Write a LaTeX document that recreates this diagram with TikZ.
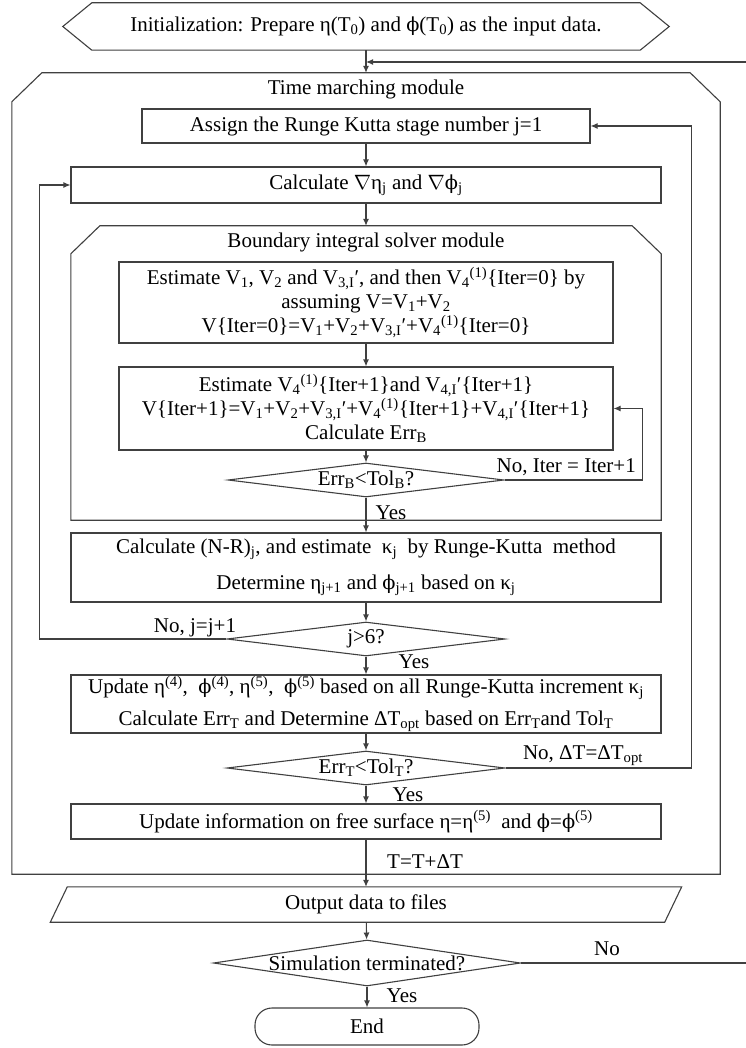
\documentclass[tikz,border=0pt]{standalone}
\usepackage{fontspec}
\setmainfont{Liberation Serif}
\newfontfamily\dvser[Scale=0.92]{DejaVu Serif}
\usetikzlibrary{arrows.meta,shapes.geometric}
\newcommand\fs{\fontsize{21}{24}\selectfont}
\newcommand\sbs[1]{\textsubscript{#1}}
\newcommand\sps[1]{\textsuperscript{#1}}
\newcommand\apos{′}
\newcommand\phis{{\dvser ϕ}}
\begin{document}
\begin{tikzpicture}[x=1pt,y=-1pt, font=\fs,
  lc/.style={draw=black!75, line width=1.1pt},
  box/.style={lc, rectangle, inner sep=0pt, align=center},
  hold/.style={rectangle, draw=none, inner sep=0pt, align=center},
  dia/.style={lc, diamond, aspect=1, inner sep=0pt},
  arr/.style={lc, -{Latex[length=7pt,width=6pt]}},
  lab/.style={inner sep=0pt}]
\useasboundingbox[fill=white] (0,0) rectangle (745,1048);

% initialization hexagon
\node[hold, minimum width=548pt, minimum height=47pt] (init) at (366,26.5)
  {Initialization: Prepare η(T\sbs{0}) and \phis(T\sbs{0}) as the input data.};
\draw[lc] (init.north west) -- (init.north east) -- ([xshift=29pt]init.east)
  -- (init.south east) -- (init.south west) -- ([xshift=-29pt]init.west) -- cycle;

% time marching module
\node[hold, minimum width=708pt, minimum height=801pt] (tmm) at (366,473.5) {};
\draw[lc] (tmm.south west) -- ([yshift=-29pt]tmm.north west) -- ([xshift=30pt]tmm.north west)
  -- ([xshift=-30pt]tmm.north east) -- ([yshift=-29pt]tmm.north east) -- (tmm.south east) -- cycle;
\node[lab] (tmmt) at (366,89) {Time marching module};

\node[box, minimum width=448pt, minimum height=34pt] (assign) at (366,126)
  {Assign the Runge Kutta stage number j=1};
\node[box, minimum width=590pt, minimum height=36pt] (calc) at (366,185)
  {Calculate $\nabla$η\sbs{j} and $\nabla$\phis\sbs{j}};

% boundary integral solver module
\node[hold, minimum width=590pt, minimum height=294pt] (bim) at (366,373) {};
\draw[lc] (bim.south west) -- ([yshift=-28pt]bim.north west) -- ([xshift=29pt]bim.north west)
  -- ([xshift=-29pt]bim.north east) -- ([yshift=-28pt]bim.north east) -- (bim.south east) -- cycle;
\node[lab] (bimt) at (366,242) {Boundary integral solver module};

\node[box, minimum width=494pt, minimum height=81pt] (est1) at (366,302.5)
  {Estimate V\sbs{1}, V\sbs{2} and V\sbs{3,I}\apos, and then V\sbs{4}\sps{(1)}\{Iter=0\} by\\
   assuming V=V\sbs{1}+V\sbs{2}\\
   V\{Iter=0\}=V\sbs{1}+V\sbs{2}+V\sbs{3,I}\apos+V\sbs{4}\sps{(1)}\{Iter=0\}};
\node[box, minimum width=494pt, minimum height=83pt] (est2) at (366,408.5)
  {Estimate V\sbs{4}\sps{(1)}\{Iter+1\}and V\sbs{4,I}\apos\{Iter+1\}\\
   V\{Iter+1\}=V\sbs{1}+V\sbs{2}+V\sbs{3,I}\apos+V\sbs{4}\sps{(1)}\{Iter+1\}+V\sbs{4,I}\apos\{Iter+1\}\\
   Calculate Err\sbs{B}};
\node[dia, minimum width=276pt, minimum height=34pt] (diab) at (366,480)
  {\makebox[0pt]{Err\sbs{B}<Tol\sbs{B}?}};

\node[box, minimum width=590pt, minimum height=69pt] (rk) at (366,567.5)
  {Calculate (N-R)\sbs{j}, and estimate~ κ\sbs{j}~ by Runge-Kutta~ method\\[12pt]
   Determine η\sbs{j+1} and \phis\sbs{j+1} based on κ\sbs{j}};
\node[dia, minimum width=278pt, minimum height=34pt] (diaj) at (366,639)
  {\makebox[0pt]{j>6?}};

\node[box, minimum width=590pt, minimum height=58pt] (upd) at (366,704)
  {Update η\sps{(4)},~ \phis\sps{(4)}, η\sps{(5)},~ \phis\sps{(5)} based on all Runge-Kutta increment κ\sbs{j}\\[8pt]
   Calculate Err\sbs{T} and Determine ΔT\sbs{opt} based on Err\sbs{T}and Tol\sbs{T}};
\node[dia, minimum width=278pt, minimum height=34pt] (diat) at (366,768)
  {\makebox[0pt]{Err\sbs{T}<Tol\sbs{T}?}};

\node[box, minimum width=590pt, minimum height=35pt] (info) at (366,821.5)
  {Update information on free surface η=η\sps{(5)}~ and \phis=\phis\sps{(5)}};

% output
\node[hold, minimum width=614pt, minimum height=35pt] (out) at (366,904.5) {Output data to files};
\draw[lc] ([xshift=8.5pt]out.north west) -- ([xshift=8.5pt]out.north east)
  -- ([xshift=-8.5pt]out.south east) -- ([xshift=-8.5pt]out.south west) -- cycle;

\node[dia, minimum width=307pt, minimum height=46pt] (sim) at (367,963)
  {\makebox[0pt]{Simulation terminated?}};
\node[box, rounded corners=17pt, minimum width=224pt, minimum height=37pt] (end) at (367,1026.5) {End};

% labels
\node[lab, anchor=east] (lnoiter) at (636,467) {No, Iter = Iter+1};
\node[lab] (lyesb) at (391,513) {Yes};
\node[lab] (lnoj) at (195,628) {No, j=j+1};
\node[lab] (lyesj) at (414,662) {Yes};
\node[lab] (lnot) at (583,756) {No, ΔT=ΔT\sbs{opt}};
\node[lab] (lyest) at (408,795) {Yes};
\node[lab] (ltt) at (425,862) {T=T+ΔT};
\node[lab] (lnosim) at (607,949) {No};
\node[lab] (lyessim) at (402,996) {Yes};

% connectors
\coordinate (jn) at (366,62);
\coordinate (rt) at (748,62);
\draw[lc] (init.south) -- (jn);
\draw[arr] (jn) -- (tmm.north);
\draw[arr] (sim.east) -| (rt) -- (jn);
\draw[arr] (assign) -- (calc);
\draw[arr] (calc) -- (bim.north);
\draw[arr] (est1) -- (est2);
\draw[arr] (est2) -- (diab);
\draw[arr] (diab.east) -- ++(138,0) |- (est2.east);
\draw[arr] (diab) -- (rk);
\draw[arr] (rk) -- (diaj);
\draw[arr] (diaj.west) -- ++(-187,0) |- (calc.west);
\draw[arr] (diaj) -- (upd);
\draw[arr] (upd) -- (diat);
\draw[arr] (diat.east) -- ++(186,0) |- (assign.east);
\draw[arr] (diat) -- (info);
\draw[arr] (info) -- (out);
\draw[arr] (out) -- (sim);
\draw[arr] (sim) -- (end);
\end{tikzpicture}
\end{document}
